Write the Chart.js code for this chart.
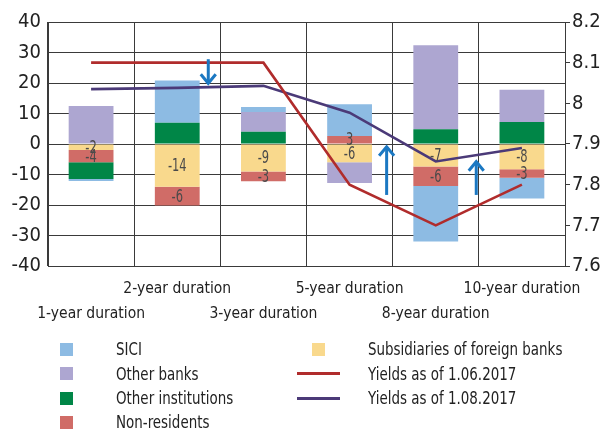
<!DOCTYPE html>
<html><head><meta charset="utf-8">
<script src="https://cdn.jsdelivr.net/npm/chart.js@4.4.1/dist/chart.umd.min.js"></script>
<style>
html,body{margin:0;padding:0;background:#fff;}
#wrap{position:relative;width:606px;height:435px;overflow:hidden;}
#c{position:absolute;left:0;top:0;}
.lg{position:absolute;font-family:'DejaVu Sans Condensed','DejaVu Sans',sans-serif;font-size:18px;color:#222;white-space:nowrap;line-height:20px;transform:scaleX(0.83);transform-origin:0 50%;}
.sw{position:absolute;}
</style></head><body>
<div id="wrap"><canvas id="c" width="606" height="435"></canvas><div id="legend"></div></div>
<script>
// ---- data ----
const categories = ['1-year duration', '2-year duration', '3-year duration', '5-year duration', '8-year duration', '10-year duration'];
const subsidiaries = [-2, -14, -9, -6, -7.4, -8.3];
const nonResidents = [-4, -6.2, -3.2, 2.6, -6.4, -2.8];
const otherInstitutions = [-5.5, 7, 4, 0, 4.8, 7.2];
const otherBanks = [12.5, 0, 6.5, -6.8, 27.6, 10.6];
const sici = [-0.6, 13.8, 1.6, 10.4, -18.2, -6.8];
const yields0106 = [8.1, 8.1, 8.1, 7.8, 7.7, 7.8];
const yields0108 = [8.035, 8.038, 8.043, 7.977, 7.857, 7.89];
const leftTicks = [-40, 40, 10];
const rightTicks = [7.6, 8.2, 0.1];
// arrows: category position, from value, to value (left axis)
const arrowAt = [1.36, 3.43, 4.47];
const arrowFrom = [27.8, -16.7, -16.7];
const arrowTo = [19.9, -0.9, -5.8];

const FONT = "'DejaVu Sans Condensed','DejaVu Sans',sans-serif";
const C = {
  sici: '#8dbbe3', banks: '#ada6d1', inst: '#008647', nonres: '#d06c67', subs: '#f9d98d',
  y1: '#b02c2c', y2: '#4b3a78', arrow: '#1b78c2', grid: '#3a3a3a'
};

const valueLabels = {
  id: 'valueLabels',
  afterDatasetsDraw(chart) {
    const ctx = chart.ctx;
    chart.data.datasets.forEach((ds, i) => {
      if (!ds.showValues) return;
      const meta = chart.getDatasetMeta(i);
      meta.data.forEach((bar, j) => {
        const v = ds.data[j];
        if (!v) return;
        const p = bar.getProps(['x', 'y', 'base'], true);
        ctx.save();
        ctx.translate(p.x, (p.y + p.base) / 2 + 1);
        ctx.scale(0.75, 1);
        ctx.font = '17px ' + FONT;
        ctx.fillStyle = '#4a4a4a';
        ctx.textAlign = 'center';
        ctx.textBaseline = 'middle';
        ctx.fillText(String(Math.round(v)), 0, 0);
        ctx.restore();
      });
    });
  }
};

const arrows = {
  id: 'arrows',
  afterDatasetsDraw(chart) {
    const ctx = chart.ctx, xs = chart.scales.x, ys = chart.scales.y;
    ctx.save();
    ctx.strokeStyle = C.arrow;
    ctx.lineWidth = 3;
    ctx.lineCap = 'butt';
    arrowAt.forEach((a, i) => {
      const x = xs.getPixelForValue(a);
      const y0 = ys.getPixelForValue(arrowFrom[i]);
      const y1 = ys.getPixelForValue(arrowTo[i]);
      const dir = y1 > y0 ? 1 : -1;
      ctx.beginPath();
      ctx.moveTo(x, y0); ctx.lineTo(x, y1);
      ctx.stroke();
      ctx.beginPath();
      ctx.moveTo(x - 7.5, y1 - dir * 9);
      ctx.lineTo(x, y1);
      ctx.lineTo(x + 7.5, y1 - dir * 9);
      ctx.stroke();
    });
    ctx.restore();
  }
};

const barDs = (label, data, color, showValues) => ({
  type: 'bar', label, data, backgroundColor: color, yAxisID: 'y', stack: 's',
  categoryPercentage: 1, barPercentage: 0.52, showValues, borderWidth: 0
});

const chart = new Chart(document.getElementById('c'), {
  data: {
    labels: categories,
    datasets: [
      { type: 'line', label: 'Yields as of 1.06.2017', data: yields0106, borderColor: C.y1, borderWidth: 2.6, pointRadius: 0, yAxisID: 'y1', tension: 0, fill: false },
      { type: 'line', label: 'Yields as of 1.08.2017', data: yields0108, borderColor: C.y2, borderWidth: 2.6, pointRadius: 0, yAxisID: 'y1', tension: 0, fill: false },
      barDs('Subsidiaries of foreign banks', subsidiaries, C.subs, true),
      barDs('Non-residents', nonResidents, C.nonres, true),
      barDs('Other institutions', otherInstitutions, C.inst, false),
      barDs('Other banks', otherBanks, C.banks, false),
      barDs('SICI', sici, C.sici, false)
    ]
  },
  options: {
    responsive: false,
    animation: false,
    devicePixelRatio: 1,
    layout: { padding: { top: 22, left: 0, right: 0, bottom: 0 } },
    plugins: { legend: { display: false }, tooltip: { enabled: false } },
    scales: {
      x: {
        offset: true,
        grid: { color: C.grid, drawTicks: false, offset: true },
        border: { color: C.grid },
        ticks: {
          autoSkip: false, maxRotation: 0, minRotation: 0, padding: 11, color: '#222',
          font: { family: FONT, size: 15.5, lineHeight: 1.6 },
          callback: (v, i) => i % 2 === 0 ? ['', categories[i]] : categories[i]
        },
        afterFit: s => { s.height = 169; }
      },
      y: {
        position: 'left', min: leftTicks[0], max: leftTicks[1],
        grid: { color: C.grid, drawTicks: false },
        border: { color: C.grid },
        ticks: { stepSize: leftTicks[2], padding: 7, color: '#222', font: { family: FONT, size: 20 } },
        afterFit: s => { s.width = 48; }
      },
      y1: {
        position: 'right', min: rightTicks[0], max: rightTicks[1],
        grid: { drawOnChartArea: false, color: C.grid, tickLength: 5 },
        border: { color: C.grid },
        ticks: { stepSize: rightTicks[2], padding: 2, color: '#222', font: { family: FONT, size: 20 },
          callback: v => Number(v.toFixed(1)).toString() },
        afterFit: s => { s.width = 41; }
      }
    }
  },
  plugins: [valueLabels, arrows]
});

// ---- legend (HTML) ----
const legendItems = [
  { name: 'SICI', color: C.sici, kind: 'box', col: 0, row: 0 },
  { name: 'Other banks', color: C.banks, kind: 'box', col: 0, row: 1 },
  { name: 'Other institutions', color: C.inst, kind: 'box', col: 0, row: 2 },
  { name: 'Non-residents', color: C.nonres, kind: 'box', col: 0, row: 3 },
  { name: 'Subsidiaries of foreign banks', color: C.subs, kind: 'box', col: 1, row: 0 },
  { name: 'Yields as of 1.06.2017', color: C.y1, kind: 'line', col: 1, row: 1 },
  { name: 'Yields as of 1.08.2017', color: C.y2, kind: 'line', col: 1, row: 2 }
];
const lg = document.getElementById('legend');
const colSwatch = [60, 312], colLine = [297, 297], colText = [116, 368];
const rowY = [349, 373.5, 398, 422];
legendItems.forEach(it => {
  const cy = rowY[it.row];
  const sw = document.createElement('div');
  sw.className = 'sw';
  if (it.kind === 'box') {
    Object.assign(sw.style, { left: colSwatch[it.col] + 'px', top: (cy - 6.5) + 'px', width: '13px', height: '13px', background: it.color });
  } else {
    Object.assign(sw.style, { left: colLine[it.col] + 'px', top: (cy - 1.5) + 'px', width: '43px', height: '3px', background: it.color });
  }
  lg.appendChild(sw);
  const t = document.createElement('div');
  t.className = 'lg';
  t.textContent = it.name;
  Object.assign(t.style, { left: colText[it.col] + 'px', top: (cy - 10) + 'px' });
  lg.appendChild(t);
});
</script>
</body></html>
